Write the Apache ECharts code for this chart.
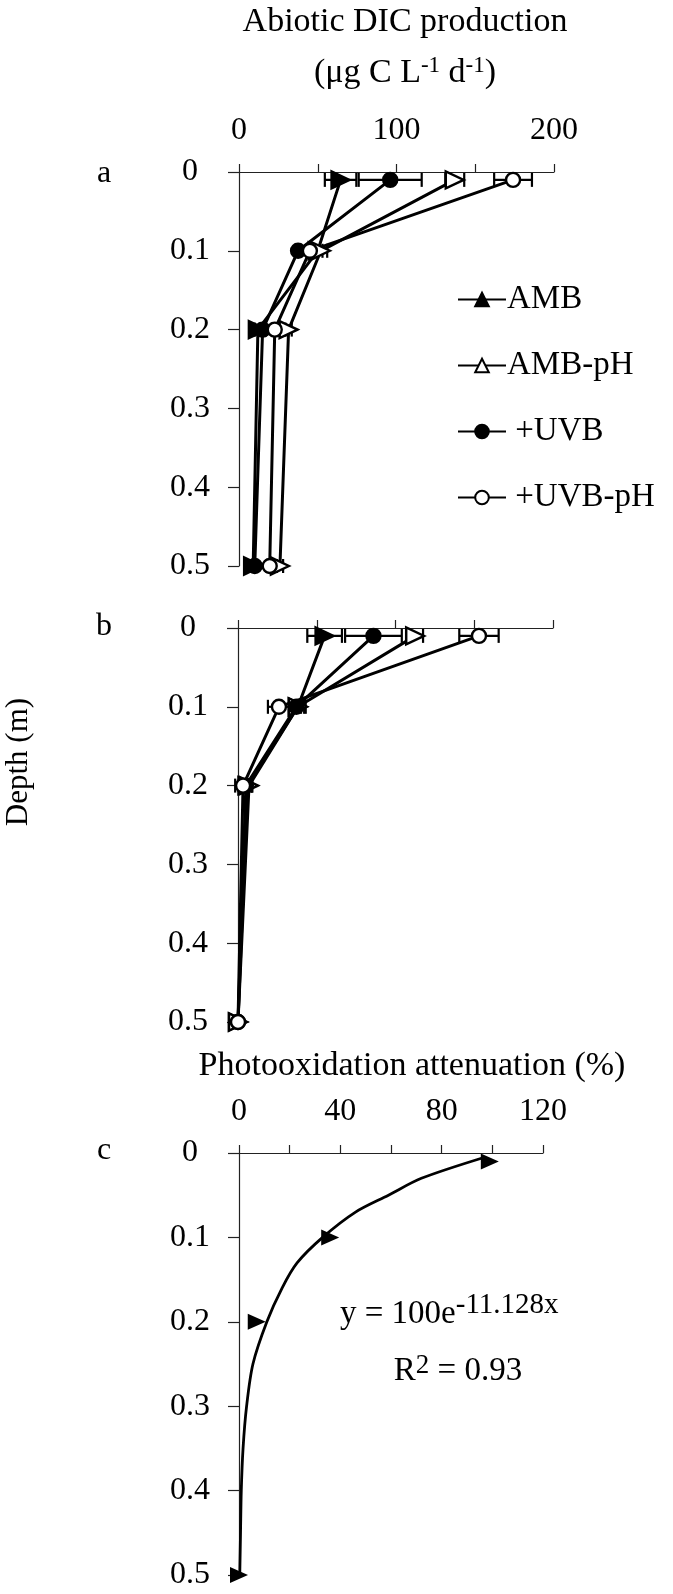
<!DOCTYPE html>
<html><head><meta charset="utf-8">
<script src="https://cdn.jsdelivr.net/npm/echarts@6/dist/echarts.min.js"></script>
<style>html,body{margin:0;padding:0;background:#fff}#c{width:673px;height:1594px}</style>
</head><body><div id="c"></div>
<script>
// ---- data ----
const depths = [0.01, 0.1, 0.2, 0.5];
const seriesNames = ['AMB', 'AMB-pH', '+UVB', '+UVB-pH'];
// Panel a (abiotic DIC production, µg C L-1 d-1)
const aAMB = [64.5, 50, 12, 9];
const aAMBErr = [10, 3, 2, 1];
const aAMBpH = [137, 52, 31.5, 26];
const aAMBpHErr = [6, 4, 2, 2];
const aUVB = [96, 37.5, 15, 10];
const aUVBErr = [20, 2, 2, 1];
const aUVBpH = [174, 45, 22.7, 19.5];
const aUVBpHErr = [12, 2, 2, 2];
// Panel b
const bAMB = [55, 38, 6, 0];
const bAMBErr = [11, 5, 3, 0.5];
const bAMBpH = [112.5, 38, 7, 0];
const bAMBpHErr = [5, 4, 2, 0.5];
const bUVB = [86, 37, 5, 0];
const bUVBErr = [18, 3, 2, 0.5];
const bUVBpH = [153, 26, 3.2, 0];
const bUVBpHErr = [12.5, 7, 5, 0.5];
// Panel c (photooxidation attenuation, %)
const cDepths = [0.01, 0.1, 0.2, 0.5];
const cAtten = [99, 36, 7, 0];
const cCurveDepth = [0.005, 0.03, 0.05, 0.07, 0.1, 0.13, 0.16, 0.2, 0.25, 0.3, 0.35, 0.4, 0.45, 0.5];
const cCurveValue = [97, 72, 59, 46, 33, 23, 17, 11, 5.5, 3, 1.6, 0.9, 0.6, 0.3];
const xLabelsA = [0, 100, 200];
const xLabelsC = [0, 40, 80, 120];
const yLabels = [0, 0.1, 0.2, 0.3, 0.4, 0.5];

// ---- styling ----
const FONT = 'Liberation Serif';
const styles = {
  'AMB': {symbol: 'triangle', fill: '#000', size: [17, 18]},
  'AMB-pH': {symbol: 'triangle', fill: '#fff', size: [17, 18]},
  '+UVB': {symbol: 'circle', fill: '#000', size: 14},
  '+UVB-pH': {symbol: 'circle', fill: '#fff', size: 14}
};

function lineSeries(name, vals, xi) {
  const s = styles[name];
  return {
    type: 'line', name: name, xAxisIndex: xi, yAxisIndex: xi, z: 3, clip: false,
    data: depths.map((d, i) => [vals[i], d]),
    symbol: s.symbol, symbolSize: s.size, symbolRotate: s.symbol === 'triangle' ? -90 : 0,
    showSymbol: true,
    lineStyle: {color: '#000', width: 3},
    itemStyle: {color: s.fill, borderColor: '#000', borderWidth: 2.4, opacity: 1},
    emphasis: {disabled: true}
  };
}
function errSeries(vals, errs, xi) {
  return {
    type: 'custom', xAxisIndex: xi, yAxisIndex: xi, z: 2, silent: true, clip: false,
    data: depths.map((d, i) => [vals[i], d, errs[i]]),
    encode: {x: 0, y: 1},
    renderItem: function (params, api) {
      const v = api.value(0), d = api.value(1), e = api.value(2);
      const l = api.coord([v - e, d]), r = api.coord([v + e, d]);
      const h = 7;
      const st = {stroke: '#000', lineWidth: 2.2};
      return {type: 'group', children: [
        {type: 'line', shape: {x1: l[0], y1: l[1], x2: r[0], y2: r[1]}, style: st},
        {type: 'line', shape: {x1: l[0], y1: l[1] - h, x2: l[0], y2: l[1] + h}, style: st},
        {type: 'line', shape: {x1: r[0], y1: r[1] - h, x2: r[0], y2: r[1] + h}, style: st}
      ]};
    }
  };
}
const axisLineStyle = {lineStyle: {color: '#222', width: 1.2}};
function xAxis(gi, max, interval, labels, showLabels) {
  return {
    type: 'value', gridIndex: gi, position: 'top', min: 0, max: max, interval: interval,
    axisLine: {show: true, onZero: false, ...axisLineStyle},
    axisTick: {show: true, inside: false, length: 8, lineStyle: {color: '#222', width: 1.2}},
    splitLine: {show: false},
    axisLabel: {show: showLabels, margin: 25, fontFamily: FONT, fontSize: 32, color: '#000',
      formatter: v => labels.indexOf(v) >= 0 ? String(v) : ''}
  };
}
function yAxis(gi, margin) {
  return {
    type: 'value', gridIndex: gi, inverse: true, min: 0, max: 0.5, interval: 0.1,
    axisLine: {show: true, onZero: false, ...axisLineStyle},
    axisTick: {show: true, inside: false, length: 11, lineStyle: {color: '#222', width: 1.2}},
    splitLine: {show: false},
    axisLabel: {margin: margin, align: 'center', fontFamily: FONT, fontSize: 32, color: '#000',
      formatter: v => {
        const i = yLabels.findIndex(t => Math.abs(t - v) < 1e-9);
        return i < 0 ? '' : (yLabels[i] === 0 ? '0' : yLabels[i].toFixed(1));
      }}
  };
}

const txt = (text, x, y, size, extra) => ({
  type: 'text', x: x, y: y, silent: true,
  style: Object.assign({text: text, fontFamily: FONT, fontSize: size, fill: '#000',
    textAlign: 'center', textVerticalAlign: 'middle'}, extra || {})
});

const option = {
  animation: false,
  backgroundColor: '#fff',
  grid: [
    {left: 239, top: 172, width: 315, height: 394},
    {left: 238, top: 628, width: 315, height: 394},
    {left: 239, top: 1153, width: 304, height: 422}
  ],
  xAxis: [xAxis(0, 200, 50, xLabelsA, true), xAxis(1, 200, 50, xLabelsA, false), xAxis(2, 120, 20, xLabelsC, true)],
  yAxis: [yAxis(0, 49), yAxis(1, 50), yAxis(2, 49)],
  legend: {
    data: seriesNames, orient: 'vertical', left: 452, top: 278, itemGap: 33,
    itemWidth: 48, itemHeight: 17, symbolRotate: 0,
    textStyle: {fontFamily: FONT, fontSize: 33, color: '#000', padding: [0, 0, 0, -4]},
    formatter: n => n.charAt(0) === '+' ? ' ' + n : n,
    selectedMode: false
  },
  series: [
    errSeries(aAMB, aAMBErr, 0), errSeries(aAMBpH, aAMBpHErr, 0),
    errSeries(aUVB, aUVBErr, 0), errSeries(aUVBpH, aUVBpHErr, 0),
    lineSeries('AMB', aAMB, 0), lineSeries('AMB-pH', aAMBpH, 0),
    lineSeries('+UVB', aUVB, 0), lineSeries('+UVB-pH', aUVBpH, 0),
    errSeries(bAMB, bAMBErr, 1), errSeries(bAMBpH, bAMBpHErr, 1),
    errSeries(bUVB, bUVBErr, 1), errSeries(bUVBpH, bUVBpHErr, 1),
    lineSeries('AMB', bAMB, 1), lineSeries('AMB-pH', bAMBpH, 1),
    lineSeries('+UVB', bUVB, 1), lineSeries('+UVB-pH', bUVBpH, 1),
    {type: 'line', xAxisIndex: 2, yAxisIndex: 2, smooth: 0.3, showSymbol: false, z: 2,
     data: cCurveDepth.map((d, i) => [cCurveValue[i], d]),
     lineStyle: {color: '#000', width: 2.8}, emphasis: {disabled: true}},
    {type: 'scatter', xAxisIndex: 2, yAxisIndex: 2, z: 3, clip: false,
     data: cDepths.map((d, i) => [cAtten[i], d]),
     symbol: 'triangle', symbolSize: [16, 18], symbolRotate: -90,
     itemStyle: {color: '#000', opacity: 1}, emphasis: {disabled: true}}
  ],
  graphic: [
    txt('Abiotic DIC production', 405, 22, 34),
    txt('(μg C L-1 d-1)', 405, 72, 34, {
      text: '{n|(μg C L}{s|-1}{n| d}{s|-1}{n|)}',
      rich: {n: {fontFamily: FONT, fontSize: 34, lineHeight: 36, verticalAlign: 'bottom'},
             s: {fontFamily: FONT, fontSize: 23, lineHeight: 36, verticalAlign: 'top'}}}),
    txt('Photooxidation attenuation (%)', 412, 1066, 34),
    txt('a', 104, 174, 32),
    txt('b', 104, 627, 32),
    txt('c', 104, 1151, 32),
    {type: 'text', x: 19, y: 762, rotation: Math.PI / 2, silent: true,
     style: {text: 'Depth (m)', fontFamily: FONT, fontSize: 31, fill: '#000', textAlign: 'center', textVerticalAlign: 'middle'}},
    {type: 'text', x: 340, y: 1311, silent: true,
     style: {text: '{n|y = 100e}{s|-11.128x}', textAlign: 'left', textVerticalAlign: 'middle',
       rich: {n: {fontFamily: FONT, fontSize: 33, lineHeight: 40, verticalAlign: 'bottom', fill: '#000'},
              s: {fontFamily: FONT, fontSize: 29, lineHeight: 40, verticalAlign: 'top', fill: '#000'}}}},
    {type: 'text', x: 458, y: 1370, silent: true,
     style: {text: '{n|R}{s|2}{n| = 0.93}', textAlign: 'center', textVerticalAlign: 'middle',
       rich: {n: {fontFamily: FONT, fontSize: 33, lineHeight: 36, verticalAlign: 'bottom', fill: '#000'},
              s: {fontFamily: FONT, fontSize: 27, lineHeight: 36, verticalAlign: 'top', fill: '#000'}}}}
  ]
};
const chart = echarts.init(document.getElementById('c'), null, {renderer: 'canvas'});
chart.setOption(option);
</script></body></html>
